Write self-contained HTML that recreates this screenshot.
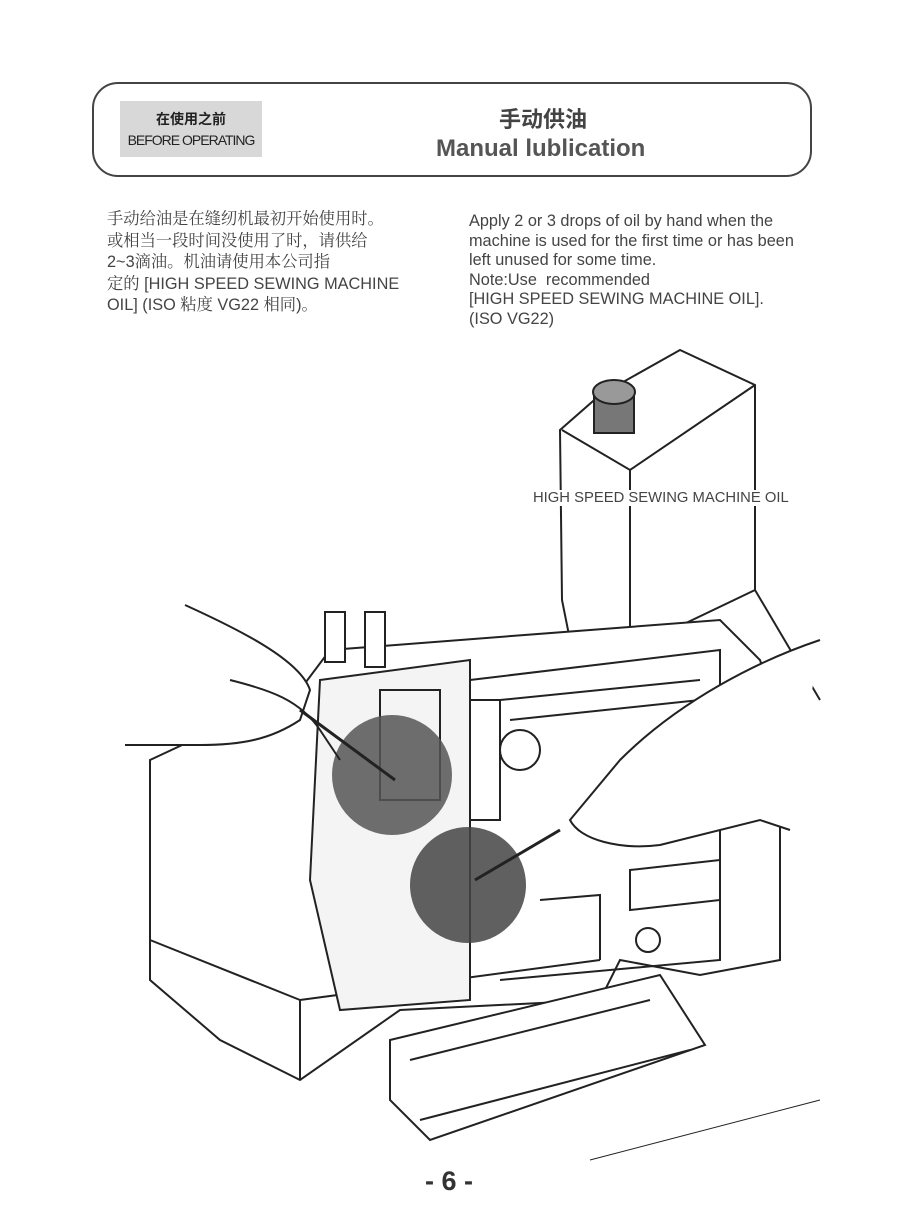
<!DOCTYPE html>
<html><head><meta charset="utf-8"><style>
body{margin:0;width:900px;height:1230px;background:#fff;position:relative;overflow:hidden;font-family:"Liberation Sans","Noto Sans CJK SC",sans-serif;color:#333}
.hdr{position:absolute;left:92px;top:82px;width:720px;height:95px;border:2px solid #444;border-radius:26px;box-sizing:border-box}
.tag{position:absolute;left:120px;top:101px;width:142px;height:56px;background:#d8d8d8;text-align:center;font-size:14px;color:#222}
.t1{position:absolute;left:443px;top:102px;width:200px;text-align:center;font-size:22px;font-weight:bold;color:#444}
.t2{position:absolute;left:436px;top:135px;font-size:24px;font-weight:bold;color:#555}
.p{position:absolute;font-size:16.3px;color:#444}
.pn{position:absolute;left:425px;top:1166px;font-size:27px;font-weight:bold;color:#333}
</style></head><body>
<div class="hdr"></div>
<div class="tag"><div style="margin-top:8px;font-weight:bold">在使用之前</div><div style="margin-top:3px;letter-spacing:-1px">BEFORE OPERATING</div></div>
<div class="t1">手动供油</div>
<div class="t2">Manual lublication</div>
<div class="p" style="left:107px;top:209px;line-height:21.5px;font-family:'Liberation Sans','Noto Serif CJK SC',sans-serif">手动给油是在缝纫机最初开始使用时。<br>或相当一段时间没使用了时，请供给<br>2~3滴油。机油请使用本公司指<br>定的 [HIGH SPEED SEWING MACHINE<br>OIL] (ISO 粘度 VG22 相同)。</div>
<div class="p" style="left:469px;top:212px;line-height:19.5px">Apply 2 or 3 drops of oil by hand when the<br>machine is used for the first time or has been<br>left unused for some time.<br>Note:Use &nbsp;recommended<br>[HIGH SPEED SEWING MACHINE OIL].<br>(ISO VG22)</div>
<svg style="position:absolute;left:0;top:0" width="900" height="1230" fill="none" stroke="#222" stroke-width="2">
<path d="M560 430 L600 395 L680 350 L755 385 L755 590 L640 645 L570 640 L562 600 Z" fill="#fff"/>
<path d="M562 430 L630 470 L755 385 M630 470 L630 645"/>
<rect x="594" y="395" width="40" height="38" fill="#777"/>
<ellipse cx="614" cy="392" rx="21" ry="12" fill="#999"/>
<path d="M755 590 L820 700"/>
<path d="M150 760 L300 690 L330 650 L720 620 L760 660 L780 720 L780 960 L700 975 L620 960 L600 1000 L400 1010 L300 1080 L220 1040 L150 980 Z" fill="#fff"/>
<path d="M300 1080 L300 1000 L150 940 M300 1000 L600 960"/>
<path d="M390 1040 L660 975 L705 1045 L430 1140 L390 1100 Z" fill="#fff"/>
<path d="M410 1060 L650 1000 M420 1120 L690 1050"/>
<path d="M590 1160 L820 1100" stroke-width="1"/>
<path d="M320 680 L470 660 L470 1000 L340 1010 L310 880 Z" fill="#f4f4f4"/>
<path d="M470 680 L720 650 L720 960 L500 980"/>
<path d="M500 700 L700 680 M510 720 L700 700 M630 870 L720 860 L720 900 L630 910 Z M540 900 L600 895 L600 960"/>
<rect x="325" y="612" width="20" height="50" fill="#fff"/>
<rect x="365" y="612" width="20" height="55" fill="#fff"/>
<path d="M380 690 L440 690 L440 800 L380 800 Z M470 700 L500 700 L500 820 L470 820"/>
<circle cx="648" cy="940" r="12"/>
<circle cx="520" cy="750" r="20"/>
<circle cx="392" cy="775" r="60" fill="#555" stroke="none" opacity="0.85"/>
<circle cx="468" cy="885" r="58" fill="#444" stroke="none" opacity="0.85"/>
<path d="M185 605 C240 630 300 660 310 690 L300 720 C270 740 240 745 200 745 L125 745" fill="#fff"/>
<path d="M230 680 C270 690 300 700 320 730 L340 760" />
<path d="M300 710 L395 780" stroke-width="3"/>
<path d="M820 640 C760 660 680 700 620 760 L570 820 C580 840 620 850 660 845 L760 820 L790 830" fill="#fff"/>
<path d="M560 830 L475 880" stroke-width="3"/>
</svg>
<div class="p" style="left:531px;top:490px;font-size:14.8px;background:#fff;padding:0 2px">HIGH SPEED SEWING MACHINE OIL</div>
<div class="pn">- 6 -</div>
</body></html>
